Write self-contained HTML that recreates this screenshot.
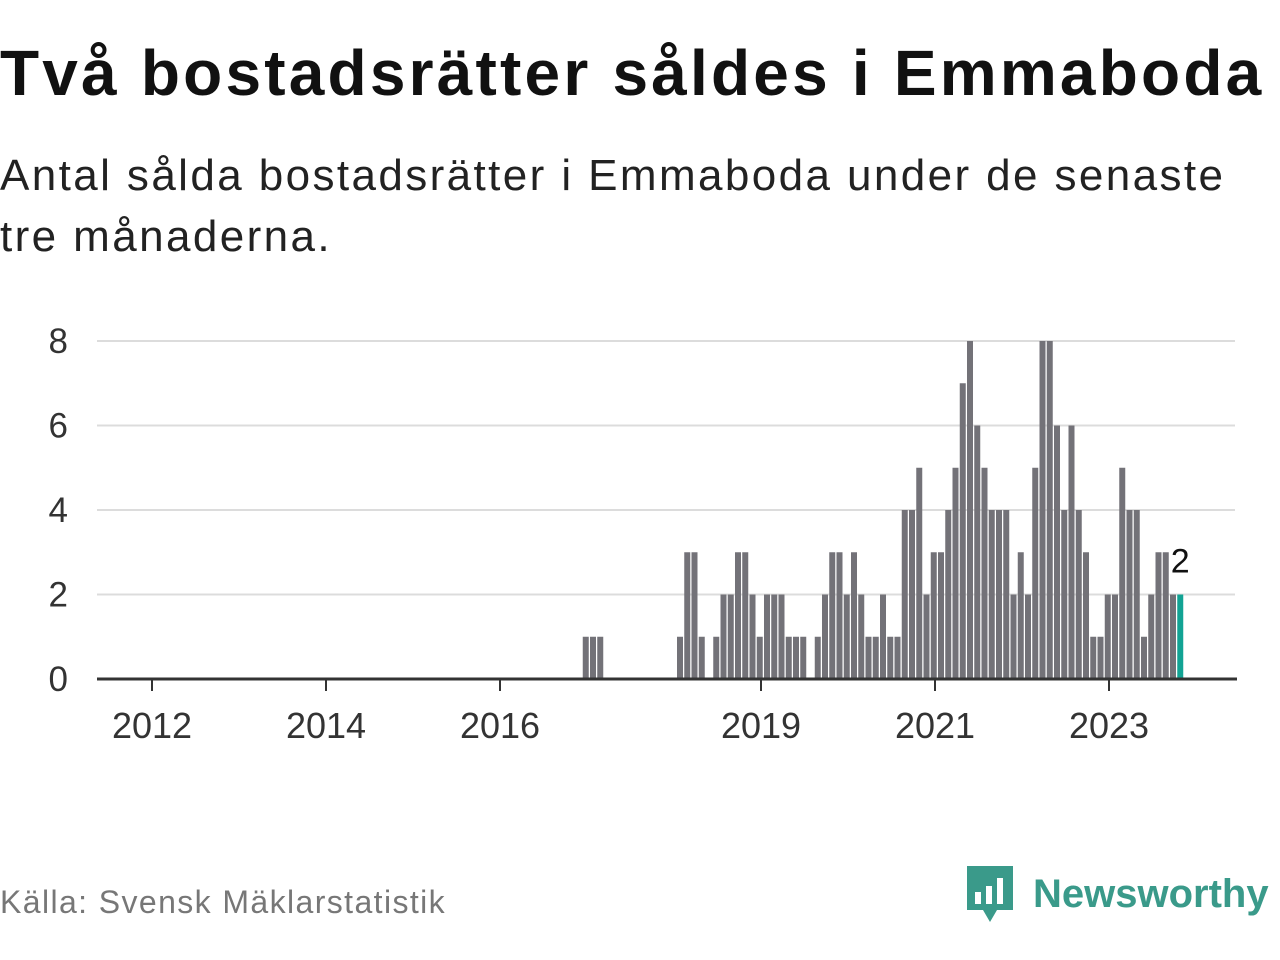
<!DOCTYPE html>
<html><head><meta charset="utf-8"><style>
body{margin:0;width:1280px;height:960px;background:#fff;font-family:"Liberation Sans","DejaVu Sans",sans-serif;overflow:hidden;position:relative}
#title{position:absolute;left:0;top:36px;font-size:64px;font-weight:bold;color:#111;letter-spacing:3.2px;white-space:nowrap}
#sub{position:absolute;left:0;top:145px;font-size:44px;line-height:61px;color:#222;width:1260px;letter-spacing:2.4px}
#src{position:absolute;left:0;top:884px;font-size:32px;color:#777;letter-spacing:1.4px}
#logo{position:absolute;left:965px;top:864px;display:flex;align-items:center}
#logo span{font-size:40px;font-weight:bold;color:#3a9a8a;margin-left:18px}
</style></head><body>
<div id="title">Två bostadsrätter såldes i Emmaboda</div>
<div id="sub">Antal sålda bostadsrätter i Emmaboda under de senaste tre månaderna.</div>
<svg id="chart" width="1280" height="960" style="position:absolute;left:0;top:0"></svg>
<div id="src">Källa: Svensk Mäklarstatistik</div>
<div id="logo">
<svg width="50" height="60" viewBox="0 0 50 60"><path d="M2 2h46v44H32l-7 12-7-12H2z" fill="#3a9a8a"/><rect x="10" y="28" width="6" height="12" fill="#fff"/><rect x="21" y="22" width="6" height="18" fill="#fff"/><rect x="32" y="14" width="6" height="26" fill="#fff"/></svg>
<span>Newsworthy</span></div>
<script>
const startYear = 2012;
const values = [];
for (let i = 0; i < 142; i++) values.push(0);
const nonzero = [[59,1],[60,1],[61,1],
[72,1],[73,3],[74,3],[75,1],[77,1],[78,2],[79,2],[80,3],[81,3],[82,2],[83,1],[84,2],[85,2],[86,2],[87,1],[88,1],[89,1],
[91,1],[92,2],[93,3],[94,3],[95,2],[96,3],[97,2],[98,1],[99,1],[100,2],[101,1],[102,1],
[103,4],[104,4],[105,5],[106,2],[107,3],[108,3],[109,4],[110,5],[111,7],[112,8],[113,6],[114,5],[115,4],[116,4],[117,4],[118,2],[119,3],[120,2],
[121,5],[122,8],[123,8],[124,6],[125,4],[126,6],[127,4],[128,3],[129,1],[130,1],[131,2],[132,2],[133,5],[134,4],[135,4],[136,1],[137,2],[138,3],[139,3],[140,2],[141,2]];
nonzero.forEach(([i,v]) => values[i] = v);
const yTicks = [0,2,4,6,8];
const xTickYears = [2012,2014,2016,2019,2021,2023];

const svg = document.getElementById('chart');
const NS = 'http://www.w3.org/2000/svg';
const x = m => 152 + 7.25 * m;
const y = v => 679 - v * 42.25;
function mk(tag, attrs){const e=document.createElementNS(NS,tag);for(const k in attrs)e.setAttribute(k,attrs[k]);svg.appendChild(e);return e;}

yTicks.forEach(t => {
  if (t > 0) {
    const g = mk('line',{x1:97,x2:1235,y1:y(t),y2:y(t),stroke:'#dcdcdc','stroke-width':2});
    
    
  }
  const l = mk('text',{x:68,y:y(t)+12,'text-anchor':'end','font-size':35,fill:'#333','font-family':'Liberation Sans, sans-serif'});
  l.textContent = t;
  
  
});

values.forEach((v, i) => {
  if (v <= 0) return;
  const last = i === values.length - 1;
  const r = mk('rect',{x:x(i)+3,y:y(v),width:6,height:y(0)-y(v),fill:last?'#12a394':'#737278'});
  
  
});

const ax = mk('line',{x1:97,x2:1237,y1:679,y2:679,stroke:'#333','stroke-width':3});



xTickYears.forEach(yr => {
  const xm = x((yr - startYear) * 12);
  const t = mk('line',{x1:xm,x2:xm,y1:679,y2:691,stroke:'#333','stroke-width':2});
  
  
  const l = mk('text',{x:xm,y:738,'text-anchor':'middle','font-size':36,fill:'#333','font-family':'Liberation Sans, sans-serif'});
  l.textContent = yr;
  
  
});

const li = values.length - 1;
const lbl = mk('text',{x:x(li)+6,y:y(values[li])-22,'text-anchor':'middle','font-size':34,fill:'#111',stroke:'#fff','stroke-width':5,'paint-order':'stroke','font-family':'Liberation Sans, sans-serif'});
lbl.textContent = values[li];


</script>
</body></html>
